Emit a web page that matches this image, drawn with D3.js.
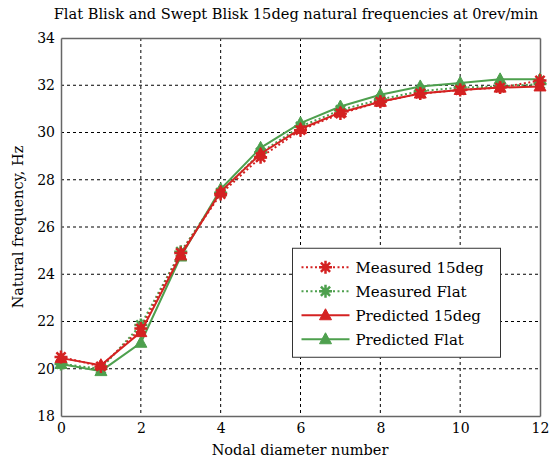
<!DOCTYPE html>
<html>
<head>
<meta charset="utf-8">
<script src="https://cdn.jsdelivr.net/npm/d3@7"></script>
<style>
  body { margin: 0; background: #fff; }
  text { font-family: "DejaVu Serif", serif; fill: #000; }
</style>
</head>
<body>
<div id="chart"></div>
<script>
// nodal diameters and frequencies (Hz)
const nodalDiameters = [0, 1, 2, 3, 4, 5, 6, 7, 8, 9, 10, 11, 12];
const measured15deg = [20.5, 20.1, 21.7, 24.9, 27.4, 28.95, 30.1, 30.8, 31.3, 31.65, 31.8, 31.9, 32.2];
const measuredFlat = [20.2, 20.0, 21.85, 24.95, 27.45, 29.15, 30.25, 30.95, 31.4, 31.75, 31.9, 31.95, 32.05];
const predicted15deg = [20.45, 20.15, 21.55, 24.8, 27.5, 29.1, 30.15, 30.85, 31.3, 31.65, 31.8, 31.9, 31.95];
const predictedFlat = [20.2, 19.9, 21.1, 24.75, 27.6, 29.35, 30.4, 31.1, 31.6, 31.95, 32.1, 32.25, 32.25];
const xTicks = [0, 2, 4, 6, 8, 10, 12];
const yTicks = [18, 20, 22, 24, 26, 28, 30, 32, 34];

const red = "#d42222", green = "#4ea04e";
const series = [
  { name: "Measured 15deg", values: measured15deg, color: red, dash: "2,2.5", marker: "star" },
  { name: "Measured Flat", values: measuredFlat, color: green, dash: "2,2.5", marker: "star" },
  { name: "Predicted 15deg", values: predicted15deg, color: red, dash: null, marker: "tri" },
  { name: "Predicted Flat", values: predictedFlat, color: green, dash: null, marker: "tri" }
];

const margin = { top: 38, right: 9, bottom: 45, left: 61 };
const width = 549 - margin.left - margin.right;
const height = 461 - margin.top - margin.bottom;

const svg = d3.select("#chart").append("svg")
    .attr("width", 549).attr("height", 461);

const g = svg.append("g").attr("transform", `translate(${margin.left},${margin.top})`);

const x = d3.scaleLinear().domain([0, 12]).range([0, width]);
const y = d3.scaleLinear().domain([18, 34]).range([height, 0]);

// grid
g.selectAll(".vgrid").data(xTicks.slice(1, -1)).enter().append("line")
    .attr("x1", d => x(d)).attr("x2", d => x(d))
    .attr("y1", 0).attr("y2", height)
    .attr("stroke", "#000").attr("stroke-width", 1).attr("stroke-dasharray", "3,3");
g.selectAll(".hgrid").data(yTicks.slice(1, -1)).enter().append("line")
    .attr("x1", 0).attr("x2", width)
    .attr("y1", d => y(d)).attr("y2", d => y(d))
    .attr("stroke", "#000").attr("stroke-width", 1).attr("stroke-dasharray", "3,3");

// axes
g.append("g").attr("transform", `translate(0,${height})`)
    .call(d3.axisBottom(x).tickValues(xTicks).tickSize(0).tickPadding(7));
g.append("g")
    .call(d3.axisLeft(y).tickValues(yTicks).tickSize(0).tickPadding(6));
g.append("g").attr("transform", `translate(${width},0)`)
    .call(d3.axisRight(y).tickValues(yTicks).tickSize(0).tickFormat(""));
g.append("g")
    .call(d3.axisTop(x).tickValues(xTicks).tickSize(0).tickFormat(""));
g.selectAll(".domain").attr("stroke", "#666").attr("stroke-width", 1.5);
g.selectAll(".tick text").attr("font-size", 14).attr("font-family", "DejaVu Serif");

// lines
const line = d3.line().x((d, i) => x(nodalDiameters[i])).y(d => y(d));

const starPath = r => {
  let p = "";
  for (let k = 0; k < 4; k++) {
    const a = k * Math.PI / 4;
    p += `M${-r * Math.cos(a)},${-r * Math.sin(a)}L${r * Math.cos(a)},${r * Math.sin(a)}`;
  }
  return p;
};
const triPath = "M0,-6.5L6,4.5L-6,4.5Z";

function drawMarker(sel, s) {
  if (s.marker === "star") {
    sel.append("path").attr("d", starPath(6.5)).attr("stroke", s.color)
        .attr("stroke-width", 2.5).attr("fill", "none");
    sel.append("circle").attr("r", 3).attr("fill", s.color);
  } else {
    sel.append("path").attr("d", triPath).attr("fill", s.color).attr("stroke", s.color);
  }
}

// draw green first so red sits on top, as in the reference
const order = [series[3], series[1], series[2], series[0]];
order.forEach(s => {
  g.append("path").datum(s.values)
      .attr("d", line).attr("fill", "none")
      .attr("stroke", s.color).attr("stroke-width", 2)
      .attr("stroke-dasharray", s.dash);
  g.selectAll(null).data(s.values).enter().append("g")
      .attr("transform", (d, i) => `translate(${x(nodalDiameters[i])},${y(d)})`)
      .each(function () { drawMarker(d3.select(this), s); });
});

// legend
const lg = g.append("g").attr("transform", `translate(${x(6) - 8},${y(25.1)})`);
lg.append("rect").attr("width", 208).attr("height", 109)
    .attr("fill", "#fff").attr("stroke", "#333").attr("stroke-width", 1);
series.forEach((s, i) => {
  const row = lg.append("g").attr("transform", `translate(0,${19 + i * 24})`);
  row.append("line").attr("x1", 9).attr("x2", 57).attr("y1", 0).attr("y2", 0)
      .attr("stroke", s.color).attr("stroke-width", 2).attr("stroke-dasharray", s.dash);
  const m = row.append("g").attr("transform", "translate(33,0)");
  drawMarker(m, s);
  row.append("text").attr("x", 63).attr("y", 6).attr("font-size", 15).text(s.name);
});

// titles
svg.append("text").attr("x", 296).attr("y", 19)
    .attr("text-anchor", "middle").attr("font-size", 14.6)
    .text("Flat Blisk and Swept Blisk 15deg natural frequencies at 0rev/min");
svg.append("text").attr("x", 300).attr("y", 455)
    .attr("text-anchor", "middle").attr("font-size", 14.5)
    .text("Nodal diameter number");
svg.append("text")
    .attr("transform", `translate(23,${margin.top + height / 2}) rotate(-90)`)
    .attr("text-anchor", "middle").attr("font-size", 14.5)
    .text("Natural frequency, Hz");
</script>
</body>
</html>
